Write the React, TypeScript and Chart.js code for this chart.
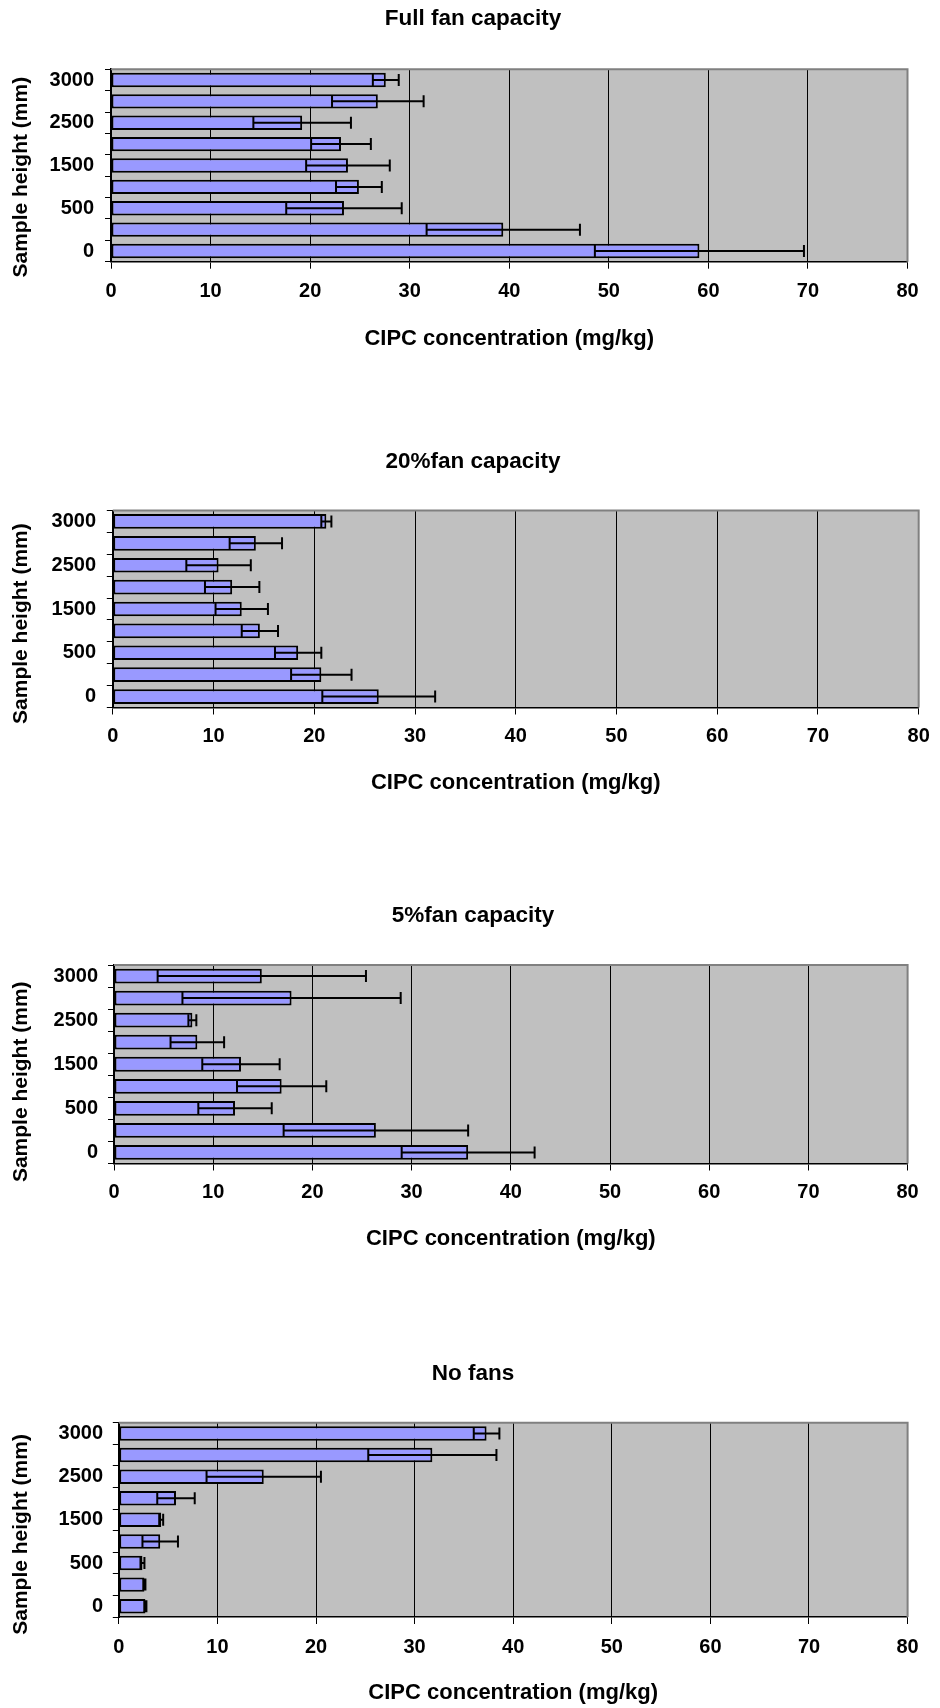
import React, { useEffect, useRef } from "react";
import { Chart, registerables } from "chart.js";

Chart.register(...registerables);

// ---- data ----
// categories, bottom (index 0) to top
const HEIGHT_CATEGORIES = ["0", "250", "500", "1000", "1500", "2000", "2500", "2750", "3000"];
const SHOWN_HEIGHT_LABELS = ["0", "500", "1500", "2500", "3000"];
const X_MIN = 0;
const X_MAX = 80;
const X_STEP = 10;

const FULL_FAN_MEAN = [59.1, 39.4, 23.4, 24.9, 23.8, 23.1, 19.2, 26.8, 27.6];
const FULL_FAN_ERR = [10.5, 7.7, 5.8, 2.3, 4.2, 3.0, 4.9, 4.6, 1.3];

const FAN20_MEAN = [26.4, 20.7, 18.4, 14.6, 12.8, 11.85, 10.5, 14.2, 21.2];
const FAN20_ERR = [5.6, 3.0, 2.3, 1.8, 2.6, 2.7, 3.2, 2.6, 0.5];

const FAN5_MEAN = [35.7, 26.4, 12.2, 16.9, 12.8, 8.4, 7.9, 17.9, 14.9];
const FAN5_ERR = [6.7, 9.3, 3.7, 4.5, 3.9, 2.7, 0.4, 11.0, 10.5];

const NOFAN_MEAN = [2.7, 2.6, 2.4, 4.2, 4.3, 5.8, 14.7, 31.8, 37.3];
const NOFAN_ERR = [0.1, 0.1, 0.2, 1.8, 0.2, 1.9, 5.8, 6.5, 1.3];

const PANEL_TITLES = ["Full fan capacity", "20%fan capacity", "5%fan capacity", "No fans"];
const X_TITLE = "CIPC concentration (mg/kg)";
const Y_TITLE = "Sample height (mm)";

// ---- layout (page pixel positions) ----
const LAYOUTS = [
  { titleCY: 18.8, plotTop: 69.3, plotBottom: 261.7, plotLeft: 111, plotRight: 907.5, tickCY: 291.7, xTitleCY: 339, yTitleCX: 21.5, labelRight: 94, spaces: 4 },
  { titleCY: 461.7, plotTop: 510.5, plotBottom: 707.5, plotLeft: 112.8, plotRight: 923.4, tickCY: 736.7, xTitleCY: 783, yTitleCX: 21, labelRight: 96, spaces: 5 },
  { titleCY: 916, plotTop: 965, plotBottom: 1163.5, plotLeft: 114, plotRight: 907.6, tickCY: 1192.7, xTitleCY: 1239.3, yTitleCX: 21, labelRight: 98, spaces: 6 },
  { titleCY: 1373.3, plotTop: 1422.7, plotBottom: 1617, plotLeft: 118.8, plotRight: 907.6, tickCY: 1647.7, xTitleCY: 1693.3, yTitleCX: 21, labelRight: 103, spaces: 5 },
];

const SERIES = [
  { mean: FULL_FAN_MEAN, err: FULL_FAN_ERR },
  { mean: FAN20_MEAN, err: FAN20_ERR },
  { mean: FAN5_MEAN, err: FAN5_ERR },
  { mean: NOFAN_MEAN, err: NOFAN_ERR },
];

const FONT = "'Liberation Sans', Arial, Helvetica, sans-serif";
const TITLE_SIZE = 22.5;
const TICK_SIZE = 20;
const X_TITLE_SIZE = 22;
const Y_TITLE_SIZE = 21;
const PAGE_W = 940;
const TITLE_CENTER_X = 473;
const LEFT_PAD = 2 * TITLE_CENTER_X - PAGE_W;

const plotAreaPlugin = {
  id: "plotArea",
  beforeDraw(chart: any) {
    const { ctx, chartArea } = chart;
    ctx.save();
    ctx.fillStyle = "#C0C0C0";
    ctx.fillRect(chartArea.left, chartArea.top, chartArea.right - chartArea.left, chartArea.bottom - chartArea.top);
    ctx.restore();
  },
  beforeDatasetsDraw(chart: any) {
    const { ctx, chartArea } = chart;
    ctx.save();
    ctx.strokeStyle = "#808080";
    ctx.lineWidth = 2;
    ctx.beginPath();
    ctx.moveTo(chartArea.left, chartArea.top);
    ctx.lineTo(chartArea.right, chartArea.top);
    ctx.lineTo(chartArea.right, chartArea.bottom);
    ctx.stroke();
    ctx.restore();
  },
};

const errorBarPlugin = {
  id: "errorBars",
  afterDatasetsDraw(chart: any) {
    const { ctx } = chart;
    const xs = chart.scales.x;
    chart.data.datasets.forEach((ds: any, di: number) => {
      const meta = chart.getDatasetMeta(di);
      meta.data.forEach((bar: any, i: number) => {
        const v = ds.data[i];
        const e = ds.errors[i];
        const x1 = xs.getPixelForValue(v - e);
        const x2 = xs.getPixelForValue(v + e);
        const y = bar.y;
        const h = 6;
        ctx.save();
        ctx.strokeStyle = "#000";
        ctx.lineWidth = 2;
        ctx.beginPath();
        ctx.moveTo(x1, y);
        ctx.lineTo(x2, y);
        ctx.moveTo(x1, y - h);
        ctx.lineTo(x1, y + h);
        ctx.moveTo(x2, y - h);
        ctx.lineTo(x2, y + h);
        ctx.stroke();
        ctx.restore();
      });
    });
  },
};

function geometry(L: any) {
  const canvasTop = Math.floor(L.titleCY - 19);
  const titleLH = TITLE_SIZE * 1.2;
  const titlePadTop = L.titleCY - canvasTop - titleLH / 2;
  const titlePadBottom = L.plotTop - canvasTop - titleLH - titlePadTop;
  const xLH = X_TITLE_SIZE * 1.2;
  const yLH = Y_TITLE_SIZE * 1.2;
  const canvasH = Math.ceil(L.xTitleCY + xLH / 2 - canvasTop);
  const xTitlePadBottom = canvasTop + canvasH - xLH / 2 - L.xTitleCY;
  const xScaleH = canvasTop + canvasH - L.plotBottom;
  const xTickPad = L.tickCY - L.plotBottom - 7 - (TICK_SIZE * 1.2) / 2;
  const yTickPad = L.plotLeft - 6 - L.labelRight;
  const yTitlePadTop = L.yTitleCX - LEFT_PAD - yLH / 2;
  return { canvasTop, canvasH, titlePadTop, titlePadBottom, xTitlePadBottom, xScaleH, xTickPad, yTickPad, yTitlePadTop };
}

function Panel({ idx }: { idx: number }) {
  const ref = useRef<HTMLCanvasElement | null>(null);
  const L = LAYOUTS[idx];
  const g = geometry(L);

  useEffect(() => {
    if (!ref.current) return;
    const s = SERIES[idx];
    const chart = new Chart(ref.current, {
      type: "bar",
      data: {
        labels: HEIGHT_CATEGORIES,
        datasets: [
          {
            data: s.mean,
            errors: s.err,
            backgroundColor: "#9999FF",
            borderColor: "#000000",
            borderWidth: 2,
            borderSkipped: false,
            barPercentage: 0.67,
            categoryPercentage: 1,
          } as any,
        ],
      },
      options: {
        indexAxis: "y",
        animation: false,
        responsive: false,
        maintainAspectRatio: false,
        devicePixelRatio: 1,
        layout: { padding: { left: LEFT_PAD, right: 0, top: 0, bottom: 0 } },
        plugins: {
          legend: { display: false },
          tooltip: { enabled: false },
          title: {
            display: true,
            text: PANEL_TITLES[idx],
            color: "#000",
            font: { family: FONT, size: TITLE_SIZE, weight: "bold" },
            padding: { top: g.titlePadTop, bottom: g.titlePadBottom },
          },
        },
        scales: {
          x: {
            type: "linear",
            min: X_MIN,
            max: X_MAX,
            afterFit: (scale: any) => {
              scale.height = g.xScaleH;
            },
            ticks: {
              stepSize: X_STEP,
              color: "#000",
              font: { family: FONT, size: TICK_SIZE, weight: "bold" },
              padding: g.xTickPad,
              maxRotation: 0,
            },
            grid: {
              drawOnChartArea: true,
              drawTicks: true,
              tickLength: 7,
              tickColor: "#000",
              tickWidth: 1,
              color: (c: any) =>
                c.tick && (c.tick.value === X_MIN || c.tick.value === X_MAX) ? "rgba(0,0,0,0)" : "#000",
              lineWidth: 1,
            },
            border: { display: true, color: "#000", width: 1.5 },
            title: {
              display: true,
              text: X_TITLE,
              color: "#000",
              font: { family: FONT, size: X_TITLE_SIZE, weight: "bold" },
              padding: { top: 0, bottom: g.xTitlePadBottom },
            },
          },
          y: {
            type: "category",
            reverse: true,
            afterFit: (scale: any) => {
              scale.width = L.plotLeft - LEFT_PAD;
            },
            ticks: {
              autoSkip: false,
              color: "#000",
              font: { family: FONT, size: TICK_SIZE, weight: "bold" },
              padding: g.yTickPad,
              callback: function (this: any, value: any) {
                const lab = this.getLabelForValue(value);
                return SHOWN_HEIGHT_LABELS.includes(lab) ? lab : "";
              },
            },
            grid: {
              offset: true,
              drawOnChartArea: false,
              drawTicks: true,
              tickLength: 6,
              tickColor: "#000",
              color: "#000",
            },
            border: { display: true, color: "#000", width: 2 },
            title: {
              display: true,
              text: Y_TITLE + " ".repeat(L.spaces),
              color: "#000",
              font: { family: FONT, size: Y_TITLE_SIZE, weight: "bold" },
              padding: { top: g.yTitlePadTop, bottom: 0 },
            },
          },
          rightSpace: {
            type: "linear",
            position: "right",
            display: true,
            ticks: { display: false },
            grid: { display: false, drawTicks: false },
            border: { display: false },
            title: { display: false },
            afterFit: (scale: any) => {
              scale.width = PAGE_W - L.plotRight;
            },
          },
        },
      } as any,
      plugins: [plotAreaPlugin, errorBarPlugin],
    });
    return () => chart.destroy();
  }, [idx]);

  return (
    <canvas
      ref={ref}
      width={PAGE_W}
      height={g.canvasH}
      style={{ position: "absolute", left: 0, top: g.canvasTop, width: PAGE_W, height: g.canvasH, display: "block" }}
    />
  );
}

export default function App() {
  return (
    <div style={{ position: "absolute", left: 0, top: 0, width: PAGE_W, height: 1708, background: "#fff" }}>
      {LAYOUTS.map((_, i) => (
        <Panel key={i} idx={i} />
      ))}
    </div>
  );
}
